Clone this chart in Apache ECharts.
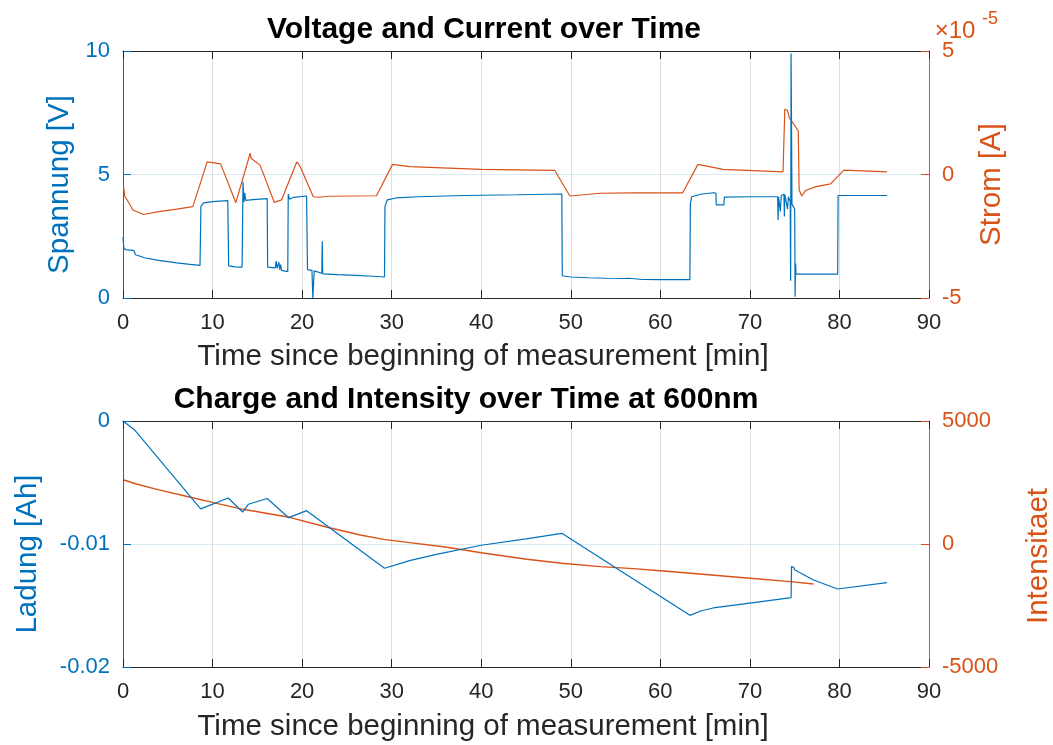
<!DOCTYPE html>
<html>
<head>
<meta charset="utf-8">
<script src="https://cdn.jsdelivr.net/npm/echarts@6/dist/echarts.min.js"></script>
<style>
  html, body { margin: 0; padding: 0; background: #fff; }
  #chart { width: 1053px; height: 745px; }
</style>
</head>
<body>
<div id="chart"></div>
<script>
// ---- Voltage (V) over time (min) ----
const voltageTime = [0.0, 0.1, 0.4, 1.2, 1.4, 2.5, 4.0, 6.0, 7.5, 8.6, 8.7, 9.0, 10.0, 11.7,
  11.8, 12.5, 13.3, 13.4, 13.5, 13.6, 13.7, 14.5, 16.1,
  16.15, 17.0, 17.1, 17.2, 17.4, 17.5, 17.6, 17.7, 18.4,
  18.45, 18.6, 19.0, 20.5,
  20.6, 21.1, 21.2, 21.35, 21.5, 22.2, 22.25, 22.3, 24.0, 26.0, 28.0, 29.2,
  29.25, 29.5, 30.5, 33.0, 38.0, 44.0, 49.0,
  49.05, 50.0, 52.0, 54.0, 56.0, 56.2, 56.5, 56.7, 58.0, 60.0, 63.3,
  63.35, 63.5, 64.5, 65.9, 66.2, 66.25, 67.1, 67.15, 70.0, 73.1,
  73.15, 73.2, 73.4, 73.5, 73.8, 73.85, 73.9, 74.1, 74.2, 74.3, 74.5,
  74.55, 74.6, 74.7, 75.0, 75.05, 75.1, 75.15, 79.8,
  79.85, 85.3];
const voltage = [2.47, 2.0, 1.95, 1.93, 1.75, 1.62, 1.52, 1.42, 1.36, 1.32, 3.7, 3.85, 3.9, 3.94,
  1.3, 1.26, 1.25, 4.71, 3.88, 4.25, 3.95, 3.98, 4.02,
  1.25, 1.22, 1.5, 1.2, 1.45, 1.15, 1.35, 1.12, 1.07,
  4.2, 4.0, 4.07, 4.13,
  1.15, 1.12, 0.0, 1.1, 1.05, 1.0, 2.3, 0.98, 0.95, 0.92, 0.88, 0.85,
  3.7, 3.97, 4.05, 4.1, 4.15, 4.18, 4.21,
  0.9, 0.85, 0.82, 0.8, 0.79, 0.85, 0.8, 0.77, 0.75, 0.74, 0.74,
  3.8, 4.1, 4.2, 4.26, 4.25, 3.77, 3.77, 4.08, 4.1, 4.1,
  3.16, 4.1, 3.5, 4.15, 4.2, 3.3, 4.2, 4.15, 3.6, 4.1, 3.9,
  0.7, 9.9, 3.8, 3.6, 0.05, 1.4, 0.97, 0.97,
  4.15, 4.15];

// ---- Current (A) over time (min) ----
const currentTime = [0.05, 0.2, 0.5, 1.1, 2.3, 4.0, 6.0, 7.8, 9.4, 10.9, 12.6, 14.2, 14.3, 15.3,
  16.9, 17.7, 19.4, 19.7, 21.25, 21.8, 23.0, 28.3, 30.1, 32.0, 40.0, 48.2, 49.9, 53.3,
  57.0, 62.5, 64.2, 67.0, 73.7, 73.9, 74.2, 74.4, 75.4, 75.5, 75.8, 76.2, 77.4, 79.0,
  80.5, 85.3];
const current = [-0.45e-5, -0.9e-5, -1.05e-5, -1.44e-5, -1.62e-5, -1.5e-5, -1.4e-5, -1.3e-5,
  0.51e-5, 0.43e-5, -1.14e-5, 0.86e-5, 0.66e-5, 0.38e-5,
  -1.13e-5, -1.03e-5, 0.51e-5, 0.38e-5, -0.9e-5, -0.92e-5, -0.88e-5, -0.86e-5, 0.41e-5,
  0.32e-5, 0.21e-5, 0.17e-5, -0.87e-5, -0.76e-5,
  -0.74e-5, -0.74e-5, 0.41e-5, 0.21e-5, 0.11e-5, 2.64e-5, 2.6e-5, 2.3e-5, 1.77e-5,
  -0.63e-5, -0.87e-5, -0.65e-5, -0.49e-5, -0.38e-5,
  0.18e-5, 0.11e-5];

// ---- Charge (Ah) over time (min) ----
const chargeTime = [0.0, 1.34, 8.67, 11.75, 13.35, 14.0, 16.1, 18.5, 20.5, 29.2, 32.0, 35.0,
  40.0, 45.0, 49.0, 63.3, 64.5, 65.9, 70.0, 74.6, 74.65, 74.9, 75.0, 77.1, 79.8, 85.3];
const charge = [0.0, -0.00076, -0.00714, -0.00626, -0.0074, -0.00677, -0.0063, -0.00786,
  -0.00729, -0.01197, -0.01135, -0.01085, -0.0101, -0.00958, -0.00913, -0.0158, -0.01545,
  -0.0152, -0.0148, -0.01436, -0.01184, -0.0119, -0.0121, -0.01293, -0.01366, -0.01314];

// ---- Intensity at 600 nm over time (min) ----
const intensityTime = [0.1, 1.5, 4.0, 7.3, 10.1, 13.4, 18.6, 22.7, 26.5, 29.1, 32.0, 36.0,
  40.0, 45.1, 49.0, 53.3, 57.0, 60.0, 64.4, 70.0, 74.5, 77.1];
const intensity = [2600, 2440, 2200, 1920, 1680, 1410, 1085, 690, 366, 190, 55, -120,
  -353, -622, -785, -920, -1000, -1085, -1220, -1395, -1530, -1626];

// ---- Axis ticks ----
const timeTicks = { min: 0, max: 90, interval: 10 };
const voltageTicks = { min: 0, max: 10, interval: 5 };
const currentTicks = { min: -5e-5, max: 5e-5, interval: 5e-5 };
const chargeTicks = { min: -0.02, max: 0, interval: 0.01 };
const intensityTicks = { min: -5000, max: 5000, interval: 5000 };

const zip = (xs, ys) => xs.map((x, i) => [x, ys[i]]);

const BLUE = '#0072BD';
const ORANGE = '#D95319';
const DARK = '#262626';
const FONT = '"Liberation Sans", Arial, Helvetica, sans-serif';

const chart = echarts.init(document.getElementById('chart'), null, { renderer: 'canvas' });

function bottomX(grid) {
  return {
    type: 'value', gridIndex: grid, position: 'bottom', ...timeTicks,
    axisLine: { show: true, onZero: false, lineStyle: { color: DARK, width: 1 } },
    axisTick: { show: true, inside: true, length: 8, lineStyle: { color: DARK } },
    axisLabel: { color: DARK, fontSize: 22, fontFamily: FONT, margin: 14 },
    splitLine: { show: true, lineStyle: { color: '#dedede', width: 1 } }
  };
}
function topX(grid) {
  return {
    type: 'value', gridIndex: grid, position: 'top', ...timeTicks,
    axisLine: { show: true, onZero: false, lineStyle: { color: DARK, width: 1 } },
    axisTick: { show: true, inside: true, length: 8, lineStyle: { color: DARK } },
    axisLabel: { show: false },
    splitLine: { show: false }
  };
}
// shiftDown moves the rotated axis title downward along the axis (in px)
function yAx(grid, side, ticks, color, name, nameGap, shiftDown, fmt, split) {
  return {
    type: 'value', gridIndex: grid, position: side, ...ticks,
    name: name, nameLocation: 'middle', nameGap: nameGap, nameRotate: 90,
    nameTextStyle: { color: color, fontSize: 29.5, fontFamily: FONT, padding: [0, shiftDown * 2, 0, 0] },
    axisLine: { show: true, onZero: false, lineStyle: { color: color, width: 1 } },
    axisTick: { show: true, inside: true, length: 8, lineStyle: { color: color } },
    axisLabel: { color: color, fontSize: 22, fontFamily: FONT, margin: 13, formatter: fmt },
    splitLine: { show: split, lineStyle: { color: '#d9eaf5', width: 1 } }
  };
}

function textEl(x, y, text, size, bold, color) {
  return {
    type: 'text', x: x, y: y, z: 100,
    style: {
      text: text, fill: color || DARK, font: (bold ? 'bold ' : '') + size + 'px ' + FONT,
      align: 'center', verticalAlign: 'middle'
    }
  };
}

const plainNumber = v => String(v);

const option = {
  animation: false,
  backgroundColor: '#fff',
  grid: [
    { left: 123, top: 51, width: 806, height: 247, outerBoundsMode: 'none', containLabel: false },
    { left: 123, top: 421, width: 806, height: 246, outerBoundsMode: 'none', containLabel: false }
  ],
  xAxis: [bottomX(0), topX(0), bottomX(1), topX(1)],
  yAxis: [
    yAx(0, 'left', voltageTicks, BLUE, 'Spannung [V]', 47, 10, plainNumber, true),
    yAx(0, 'right', currentTicks, ORANGE, 'Strom [A]', 48, 10, v => String(Math.round(v * 1e5)), false),
    yAx(1, 'left', chargeTicks, BLUE, 'Ladung [Ah]', 80, 10, plainNumber, true),
    yAx(1, 'right', intensityTicks, ORANGE, 'Intensitaet', 95, 12, plainNumber, false)
  ],
  graphic: [
    textEl(484, 30, 'Voltage and Current over Time', 30, true, '#000'),
    textEl(483, 357, 'Time since beginning of measurement [min]', 29.5, false),
    textEl(466, 400, 'Charge and Intensity over Time at 600nm', 30, true, '#000'),
    textEl(483, 727, 'Time since beginning of measurement [min]', 29.5, false),
    textEl(955, 31, '\u00d710', 24, false, ORANGE),
    textEl(990, 19, '-5', 18, false, ORANGE)
  ],
  series: [
    {
      type: 'line', xAxisIndex: 0, yAxisIndex: 1, data: zip(currentTime, current),
      showSymbol: false, symbol: 'none', z: 3,
      lineStyle: { color: ORANGE, width: 1.2 }
    },
    {
      type: 'line', xAxisIndex: 0, yAxisIndex: 0, data: zip(voltageTime, voltage),
      showSymbol: false, symbol: 'none', z: 4,
      lineStyle: { color: BLUE, width: 1.2 }
    },
    {
      type: 'line', xAxisIndex: 2, yAxisIndex: 3, data: zip(intensityTime, intensity),
      showSymbol: false, symbol: 'none', z: 3,
      lineStyle: { color: ORANGE, width: 1.4 }
    },
    {
      type: 'line', xAxisIndex: 2, yAxisIndex: 2, data: zip(chargeTime, charge),
      showSymbol: false, symbol: 'none', z: 4,
      lineStyle: { color: BLUE, width: 1.2 }
    }
  ]
};

chart.setOption(option);
</script>
</body>
</html>
